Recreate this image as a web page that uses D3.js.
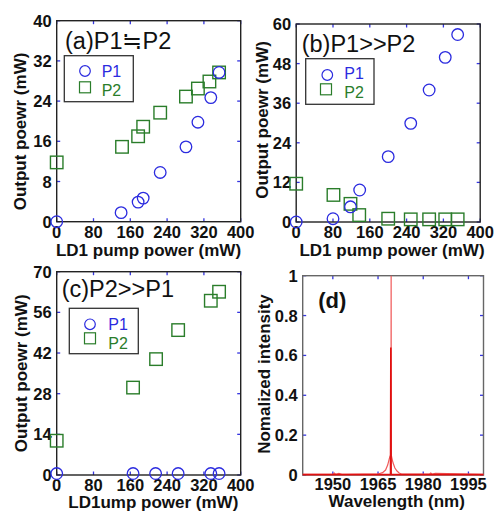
<!DOCTYPE html>
<html><head><meta charset="utf-8">
<script src="https://cdn.jsdelivr.net/npm/d3@7/dist/d3.min.js"></script>
<style>
html,body{margin:0;padding:0;background:#fff;}
svg text{font-family:"Liberation Sans",Arial,sans-serif;}
</style></head>
<body><svg id="c" width="499" height="511"></svg>
<script>
// ---------- data ----------
const pumpTicks = [0, 80, 160, 240, 320, 400];
const aTicksY = [0, 8, 16, 24, 32, 40];
const bTicksY = [0, 12, 24, 36, 48, 60];
const cTicksY = [0, 14, 28, 42, 56, 70];
const dTicksX = [1950, 1965, 1980, 1995];
const dTicksY = [0, 0.2, 0.4, 0.6, 0.8, 1];

const aP1x = [0, 140, 177, 188, 225, 281, 307, 335, 353];
const aP1y = [0, 1.8, 3.9, 4.7, 9.8, 14.9, 19.8, 24.7, 29.7];
const aP2x = [0, 142, 177, 188, 225, 281, 307, 332, 353];
const aP2y = [11.8, 14.9, 17.0, 18.9, 21.7, 24.9, 26.5, 27.9, 29.7];

const bP1x = [0, 80, 118, 138, 200, 249, 289, 324, 351];
const bP1y = [0, 1, 4.6, 9.7, 19.8, 29.9, 40, 49.9, 56.8];
const bP2x = [0, 81, 118, 137, 200, 249, 289, 324, 351];
const bP2y = [11.6, 8.2, 5.5, 2.1, 1, 0.8, 0.8, 0.8, 0.8];

const cP1x = [0, 166, 215, 264, 335, 353];
const cP1y = [0.5, 0.5, 0.5, 0.5, 0.5, 0.5];
const cP2x = [0, 166, 216, 264, 335, 353];
const cP2y = [11.8, 30.1, 39.9, 49.9, 60, 63.1];

const specWl = [1940, 1950, 1950.5, 1951, 1952, 1953, 1960, 1965, 1966.5, 1967.5, 1968.2, 1968.7, 1969.0, 1969.3, 1969.35, 1969.4, 1969.6, 1970, 1970.6, 1971.3, 1972, 1972.8, 1975, 1982, 1982.5, 1983, 1984, 2000];
const specI  = [0.003, 0.003, 0.01, 0.003, 0.008, 0.003, 0.004, 0.005, 0.012, 0.025, 0.05, 0.08, 0.095, 0.1, 1.0, 0.1, 0.085, 0.06, 0.035, 0.02, 0.01, 0.005, 0.004, 0.004, 0.01, 0.004, 0.008, 0.003];
const spec2Wl = [1940, 1969.15, 1969.25, 1969.35, 2000];
const spec2I  = [0.002, 0.002, 0.64, 0.002, 0.002];

const legendLabels = ["P1", "P2"];

// ---------- styles ----------
const BLUE = "#2b2bdf", GREEN = "#2a7d2a", TICK = "#3535e0";
const svg = d3.select("#c");
svg.append("rect").attr("width", 499).attr("height", 511).attr("fill", "#fff");

function frame(p) {
  const g = svg.append("g");
  const x = d3.scaleLinear().domain(p.xd).range(p.xr);
  const y = d3.scaleLinear().domain(p.yd).range(p.yr);
  const [x0, x1] = p.xr, [y0, y1] = p.yr;
  const tl = 3.5;
  p.xt.forEach(t => {
    const px = x(t);
    g.append("line").attr("x1", px).attr("x2", px).attr("y1", y0).attr("y2", y0 - tl).attr("stroke", TICK).attr("stroke-width", 1.3);
    g.append("line").attr("x1", px).attr("x2", px).attr("y1", y1).attr("y2", y1 + tl).attr("stroke", TICK).attr("stroke-width", 1.3);
  });
  p.yt.forEach(t => {
    const py = y(t);
    g.append("line").attr("x1", x0).attr("x2", x0 + tl).attr("y1", py).attr("y2", py).attr("stroke", TICK).attr("stroke-width", 1.3);
    g.append("line").attr("x1", x1).attr("x2", x1 - tl).attr("y1", py).attr("y2", py).attr("stroke", TICK).attr("stroke-width", 1.3);
  });
  p.xt.forEach(t => {
    g.append("text").attr("x", x(t)).attr("y", y0 + p.xlo).attr("text-anchor", "middle")
      .attr("font-size", 16.5).attr("font-weight", "bold").attr("fill", "#111").text(t);
  });
  p.yt.forEach(t => {
    g.append("text").attr("x", x0 - 5).attr("y", y(t) + 6).attr("text-anchor", "end")
      .attr("font-size", 16.5).attr("font-weight", "bold").attr("fill", "#111").text(t);
  });
  g.append("text").attr("x", p.xtx).attr("y", p.xty).attr("text-anchor", "middle")
    .attr("font-size", 17).attr("font-weight", "bold").attr("fill", "#111").text(p.xlabel);
  g.append("text").attr("transform", `translate(${p.ytx},${p.yty}) rotate(-90)`).attr("text-anchor", "middle")
    .attr("font-size", 17).attr("font-weight", "bold").attr("fill", "#111").text(p.ylabel);
  return {g, x, y};
}

function drawFrameBox(g, p, color) {
  g.append("rect").attr("x", p.xr[0]).attr("y", p.yr[1]).attr("width", p.xr[1] - p.xr[0]).attr("height", p.yr[0] - p.yr[1])
    .attr("fill", "none").attr("stroke", color).attr("stroke-width", 1.4);
}

function scatter(f, xs, ys, P2xs, P2ys) {
  const pts1 = xs.map((v, i) => [v, ys[i]]);
  const pts2 = P2xs.map((v, i) => [v, P2ys[i]]);
  const s = 12.5;
  f.g.selectAll(null).data(pts2).enter().append("rect")
    .attr("x", d => f.x(d[0]) - s / 2).attr("y", d => f.y(d[1]) - s / 2).attr("width", s).attr("height", s)
    .attr("fill", "none").attr("stroke", GREEN).attr("stroke-width", 1.4);
  f.g.selectAll(null).data(pts1).enter().append("circle")
    .attr("cx", d => f.x(d[0])).attr("cy", d => f.y(d[1])).attr("r", 5.8)
    .attr("fill", "none").attr("stroke", BLUE).attr("stroke-width", 1.3);
}

function legend(L) {
  const g = svg.append("g");
  g.append("rect").attr("x", L.bx).attr("y", L.by).attr("width", L.bw).attr("height", L.bh)
    .attr("fill", "#fff").attr("stroke", "#333").attr("stroke-width", 1.3);
  g.append("circle").attr("cx", L.mx1).attr("cy", L.my1).attr("r", 5.3).attr("fill", "none").attr("stroke", BLUE).attr("stroke-width", 1.2);
  g.append("rect").attr("x", L.mx2 - 5.5).attr("y", L.my2 - 5.5).attr("width", 11).attr("height", 11).attr("fill", "none").attr("stroke", GREEN).attr("stroke-width", 1.2);
  g.append("text").attr("x", L.tx).attr("y", L.ty1).attr("font-size", 16).attr("fill", BLUE).text(legendLabels[0]);
  g.append("text").attr("x", L.tx).attr("y", L.ty2).attr("font-size", 16).attr("fill", GREEN).text(legendLabels[1]);
}

function title(x, y, t, bold, size) {
  svg.append("text").attr("x", x).attr("y", y).attr("font-size", size).attr("font-weight", bold ? "bold" : "normal")
    .attr("fill", "#111").text(t);
}

// ---------- panel (a) ----------
const pa = {xd: [0, 400], xr: [56.7, 240.7], yd: [0, 40], yr: [221.7, 20.7], xt: pumpTicks, yt: aTicksY, xlo: 16,
  xlabel: "LD1 pump power (mW)", xtx: 148.5, xty: 256, ylabel: "Output poewr (mW)", ytx: 26, yty: 131.5};
const fa = frame(pa);
drawFrameBox(fa.g, pa, "#222");
title(65, 49.3, "(a)P1≒P2", false, 23.5);
legend({bx: 64.3, by: 55.7, bw: 69, bh: 46, mx1: 85, my1: 71, mx2: 85, my2: 87.3, tx: 101.7, ty1: 77.3, ty2: 95.5});
scatter(fa, aP1x, aP1y, aP2x, aP2y);

// ---------- panel (b) ----------
const pb = {xd: [0, 400], xr: [296.2, 480.2], yd: [0, 60], yr: [222, 24], xt: pumpTicks, yt: bTicksY, xlo: 16,
  xlabel: "LD1 pump power (mW)", xtx: 392, xty: 256, ylabel: "Output poewr (mW)", ytx: 268, yty: 120};
const fb = frame(pb);
drawFrameBox(fb.g, pb, "#222");
title(301.7, 51.7, "(b)P1>>P2", false, 23.5);
legend({bx: 305.7, by: 58.7, bw: 68.3, bh: 45.6, mx1: 327.3, my1: 75, mx2: 326, my2: 89.3, tx: 344.3, ty1: 79.2, ty2: 97.5});
scatter(fb, bP1x, bP1y, bP2x, bP2y);

// ---------- panel (c) ----------
const pc = {xd: [0, 400], xr: [56.7, 240.7], yd: [0, 70], yr: [475, 271.7], xt: pumpTicks, yt: cTicksY, xlo: 16,
  xlabel: "LD1ump power (mW)", xtx: 153.3, xty: 508, ylabel: "Output poewr (mW)", ytx: 27, yty: 373.3};
const fc = frame(pc);
drawFrameBox(fc.g, pc, "#222");
title(61.7, 296.7, "(c)P2>>P1", false, 23.5);
legend({bx: 69.3, by: 308.3, bw: 69, bh: 45.4, mx1: 90, my1: 324.3, mx2: 90, my2: 338.3, tx: 108.3, ty1: 330.3, ty2: 348.5});
scatter(fc, cP1x, cP1y, cP2x, cP2y);

// ---------- panel (d) ----------
const pd = {xd: [1940, 2000], xr: [302.7, 483.5], yd: [0, 1], yr: [475, 275.7], xt: dTicksX, yt: dTicksY, xlo: 15,
  xlabel: "Wavelength (nm)", xtx: 396.7, xty: 507, ylabel: "Nomalized intensity", ytx: 270, yty: 374};
const fd = frame(pd);
drawFrameBox(fd.g, pd, "#666");
title(318.3, 308.3, "(d)", true, 22);
const line = d3.line().x(d => fd.x(d[0])).y(d => fd.y(d[1]));
fd.g.append("path").datum(specWl.map((w, i) => [w, specI[i]])).attr("d", line)
  .attr("fill", "none").attr("stroke", "#f05a5a").attr("stroke-width", 1.2);
fd.g.append("path").datum(spec2Wl.map((w, i) => [w, spec2I[i]])).attr("d", line)
  .attr("fill", "none").attr("stroke", "#e01010").attr("stroke-width", 1.6);
</script></body></html>
